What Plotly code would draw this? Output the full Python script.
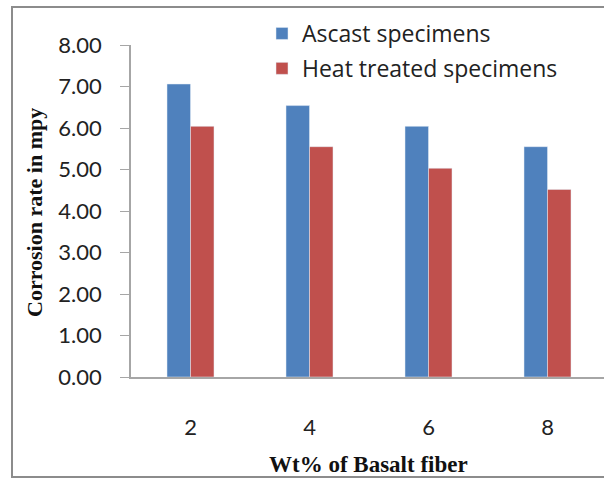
import plotly.graph_objects as go

categories = ["2", "4", "6", "8"]
ascast = [7.06, 6.54, 6.04, 5.55]
heat_treated = [6.04, 5.55, 5.03, 4.52]
y_ticks = [0, 1, 2, 3, 4, 5, 6, 7, 8]
y_tick_text = ["%.2f" % v for v in y_ticks]

W, H = 604, 479
L, R, T, B = 131, 0, 45, 102
pw, ph = W - L - R, H - T - B

def px(x):
    return (x - L) / pw

def py(y):
    return (H - B - y) / ph

fig = go.Figure()
fig.add_trace(go.Bar(x=list(range(len(categories))), y=ascast, name="Ascast specimens",
                     legendgroup="a", marker=dict(color="#4F81BD")))
fig.add_trace(go.Bar(x=list(range(len(categories))), y=heat_treated, name="Heat treated specimens",
                     legendgroup="b", marker=dict(color="#C0504D")))

fig.update_layout(
    width=W, height=H,
    margin=dict(l=L, r=R, t=T, b=B, pad=0),
    paper_bgcolor="white", plot_bgcolor="white",
    barmode="group", bargap=0.605, bargroupgap=0,
    font=dict(family="Lato", color="#222222"),
    showlegend=True,
    legend=dict(x=px(262), y=py(12), xanchor="left", yanchor="top",
                font=dict(family="Open Sans", size=23, color="#222222"),
                tracegroupgap=2, bgcolor="rgba(0,0,0,0)", itemwidth=30),
    xaxis=dict(range=[-0.5, -0.5 + pw / 119.0], tickmode="array",
               tickvals=list(range(len(categories))), ticktext=categories,
               showgrid=False, zeroline=False, showline=True, linecolor="#a6a6a6",
               linewidth=1.5, ticks="", ticklabelstandoff=30,
               tickfont=dict(family="Lato", size=22, color="#222222")),
    yaxis=dict(range=[0, 8], tickmode="array", tickvals=y_ticks, ticktext=y_tick_text,
               showgrid=False, zeroline=False, showline=True, linecolor="#a6a6a6",
               linewidth=1.5, ticks="outside", ticklen=9, tickcolor="#a6a6a6",
               ticklabelstandoff=14,
               tickfont=dict(family="Lato", size=22, color="#222222")),
    shapes=[dict(type="rect", xref="paper", yref="paper",
                 x0=px(12), x1=px(615), y0=py(477), y1=py(7),
                 line=dict(color="#8c8c8c", width=2), fillcolor="rgba(0,0,0,0)", layer="below")],
    annotations=[
        dict(text="<b>Corrosion rate in mpy</b>", xref="paper", yref="paper",
             x=px(34), y=py(213), textangle=-90, showarrow=False,
             font=dict(family="Liberation Serif", size=22, color="#111111"),
             xanchor="center", yanchor="middle"),
        dict(text="<b>Wt% of Basalt fiber</b>", xref="paper", yref="paper",
             x=px(368), y=py(464), showarrow=False,
             font=dict(family="Liberation Serif", size=23, color="#111111"),
             xanchor="center", yanchor="middle"),
    ],
)

fig.write_html("out.html")
